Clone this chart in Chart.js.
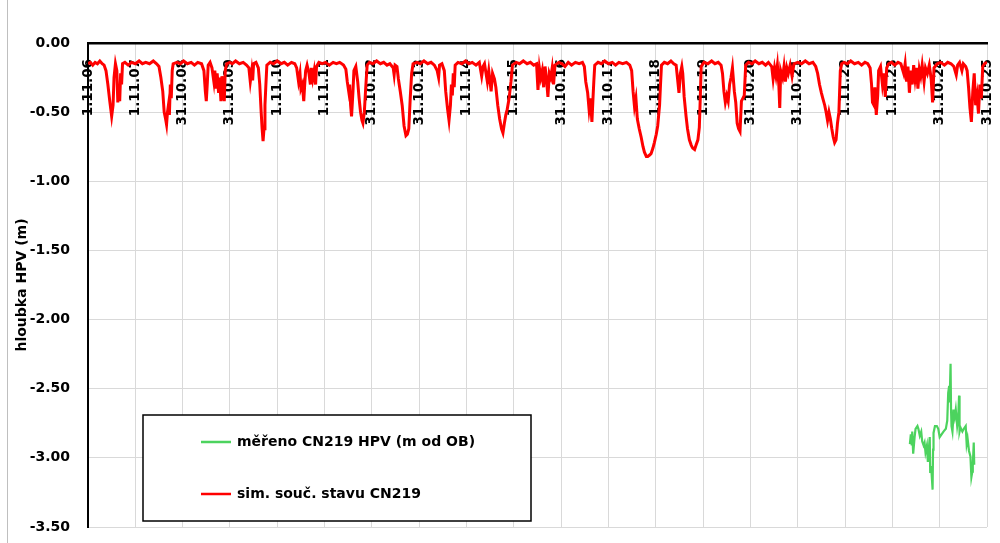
<!DOCTYPE html>
<html>
<head>
<meta charset="utf-8">
<script src="https://cdn.jsdelivr.net/npm/chart.js@4"></script>
<style>
  body { margin: 0; background: #fff; }
  #wrap { position: relative; width: 1000px; height: 543px; }
  #edge { position: absolute; left: 7px; top: 0; width: 1px; height: 543px; background: #bfbfbf; }
</style>
</head>
<body>
<div id="wrap"><div id="edge"></div><canvas id="myChart"></canvas></div>
<script>
// x = years since 1.11.06, y = depth (m)
const dateLabels = ['1.11.06', '1.11.07', '31.10.08', '31.10.09', '1.11.10', '1.11.11', '31.10.12',
  '31.10.13', '1.11.14', '1.11.15', '31.10.16', '31.10.17', '1.11.18', '1.11.19', '31.10.20',
  '31.10.21', '1.11.22', '1.11.23', '31.10.24', '31.10.25'];

const depthTicks = [0, -0.5, -1, -1.5, -2, -2.5, -3, -3.5];

// měřeno CN219
const measured = [
  [17.37,-2.90],[17.39,-2.83],[17.41,-2.91],[17.42,-2.81],[17.44,-2.97],[17.47,-2.85],[17.49,-2.79],
  [17.53,-2.77],[17.55,-2.79],[17.58,-2.84],[17.61,-2.81],[17.63,-2.88],[17.66,-2.91],[17.68,-2.89],
  [17.70,-2.96],[17.73,-2.91],[17.75,-3.03],[17.77,-2.94],[17.79,-2.85],[17.80,-3.11],[17.82,-3.06],
  [17.85,-3.23],[17.86,-2.94],[17.87,-2.82],[17.90,-2.77],[17.94,-2.77],[17.97,-2.79],[18.00,-2.85],
  [18.04,-2.83],[18.08,-2.81],[18.13,-2.79],[18.16,-2.73],[18.18,-2.53],[18.20,-2.48],[18.21,-2.60],
  [18.23,-2.32],[18.24,-2.65],[18.25,-2.77],[18.27,-2.81],[18.30,-2.65],[18.32,-2.70],[18.34,-2.65],
  [18.37,-2.77],[18.39,-2.72],[18.41,-2.55],[18.42,-2.81],[18.44,-2.78],[18.48,-2.81],[18.51,-2.79],
  [18.55,-2.77],[18.57,-2.90],[18.59,-2.86],[18.62,-2.95],[18.65,-2.99],[18.67,-3.14],[18.69,-3.10],
  [18.70,-3.05],[18.72,-2.89],[18.73,-3.05]
];

// sim. souč. stavu CN219
const simulated = [
  [0.00,-0.15],[0.05,-0.14],[0.10,-0.16],[0.15,-0.14],[0.20,-0.15],[0.25,-0.13],[0.30,-0.15],[0.34,-0.16],
  [0.38,-0.20],[0.42,-0.30],[0.46,-0.42],[0.50,-0.53],[0.53,-0.45],[0.55,-0.25],[0.58,-0.15],[0.61,-0.20],
  [0.63,-0.43],[0.65,-0.30],[0.67,-0.42],[0.69,-0.22],[0.71,-0.30],[0.73,-0.15],[0.78,-0.14],[0.85,-0.16],
  [0.92,-0.14],[1.00,-0.15],[1.08,-0.13],[1.15,-0.15],[1.22,-0.14],[1.30,-0.15],[1.38,-0.13],[1.45,-0.15],
  [1.50,-0.17],[1.54,-0.25],[1.58,-0.35],[1.61,-0.50],[1.64,-0.55],[1.66,-0.59],[1.68,-0.50],[1.70,-0.45],
  [1.72,-0.52],[1.74,-0.30],[1.76,-0.40],[1.78,-0.20],[1.80,-0.15],[1.88,-0.14],[1.95,-0.15],[2.02,-0.13],
  [2.10,-0.15],[2.18,-0.14],[2.25,-0.16],[2.32,-0.14],[2.40,-0.15],[2.45,-0.20],[2.48,-0.35],[2.50,-0.42],
  [2.52,-0.30],[2.54,-0.16],[2.58,-0.14],[2.62,-0.18],[2.66,-0.28],[2.68,-0.20],[2.71,-0.33],[2.73,-0.22],
  [2.76,-0.36],[2.78,-0.25],[2.81,-0.42],[2.83,-0.24],[2.86,-0.36],[2.88,-0.42],[2.90,-0.20],[2.93,-0.15],
  [3.00,-0.14],[3.05,-0.15],[3.12,-0.13],[3.20,-0.15],[3.28,-0.14],[3.35,-0.16],[3.40,-0.18],[3.43,-0.28],
  [3.46,-0.20],[3.48,-0.27],[3.50,-0.15],[3.55,-0.14],[3.60,-0.18],[3.63,-0.30],[3.66,-0.50],[3.68,-0.62],
  [3.70,-0.71],[3.72,-0.62],[3.74,-0.45],[3.76,-0.30],[3.78,-0.16],[3.85,-0.14],[3.92,-0.15],[4.00,-0.13],
  [4.08,-0.15],[4.15,-0.14],[4.22,-0.16],[4.30,-0.14],[4.37,-0.15],[4.41,-0.18],[4.45,-0.28],[4.48,-0.22],
  [4.50,-0.33],[4.53,-0.30],[4.56,-0.42],[4.58,-0.30],[4.60,-0.20],[4.63,-0.16],[4.67,-0.22],[4.70,-0.30],
  [4.72,-0.18],[4.75,-0.26],[4.78,-0.20],[4.81,-0.30],[4.83,-0.17],[4.88,-0.14],[4.95,-0.15],[5.02,-0.14],
  [5.10,-0.16],[5.18,-0.14],[5.25,-0.15],[5.32,-0.14],[5.40,-0.16],[5.45,-0.19],[5.48,-0.28],[5.51,-0.35],
  [5.53,-0.30],[5.55,-0.45],[5.57,-0.53],[5.60,-0.35],[5.62,-0.20],[5.66,-0.17],[5.70,-0.28],[5.73,-0.40],
  [5.76,-0.50],[5.79,-0.56],[5.81,-0.58],[5.84,-0.50],[5.87,-0.32],[5.90,-0.16],[5.95,-0.14],[6.02,-0.15],
  [6.10,-0.13],[6.18,-0.15],[6.25,-0.14],[6.32,-0.16],[6.38,-0.15],[6.45,-0.18],[6.47,-0.23],[6.49,-0.16],
  [6.53,-0.17],[6.56,-0.26],[6.60,-0.35],[6.64,-0.45],[6.68,-0.60],[6.72,-0.67],[6.75,-0.66],[6.78,-0.62],
  [6.81,-0.40],[6.84,-0.22],[6.87,-0.15],[6.95,-0.14],[7.02,-0.15],[7.10,-0.13],[7.18,-0.15],[7.25,-0.14],
  [7.32,-0.16],[7.38,-0.20],[7.41,-0.25],[7.43,-0.16],[7.48,-0.15],[7.53,-0.20],[7.56,-0.35],[7.60,-0.48],
  [7.63,-0.56],[7.66,-0.45],[7.68,-0.30],[7.70,-0.38],[7.72,-0.22],[7.74,-0.32],[7.76,-0.16],[7.82,-0.14],
  [7.90,-0.15],[7.98,-0.13],[8.05,-0.15],[8.12,-0.14],[8.20,-0.16],[8.27,-0.14],[8.32,-0.24],[8.35,-0.17],
  [8.38,-0.15],[8.44,-0.28],[8.47,-0.20],[8.52,-0.35],[8.55,-0.22],[8.59,-0.26],[8.62,-0.32],[8.66,-0.45],
  [8.70,-0.55],[8.74,-0.62],[8.77,-0.65],[8.80,-0.58],[8.83,-0.52],[8.86,-0.48],[8.90,-0.40],[8.94,-0.28],
  [8.97,-0.16],[9.05,-0.14],[9.12,-0.15],[9.20,-0.13],[9.28,-0.15],[9.35,-0.14],[9.42,-0.16],[9.48,-0.15],
  [9.51,-0.34],[9.54,-0.18],[9.57,-0.25],[9.60,-0.20],[9.63,-0.32],[9.66,-0.17],[9.69,-0.26],[9.72,-0.39],
  [9.75,-0.22],[9.78,-0.25],[9.81,-0.18],[9.84,-0.30],[9.87,-0.16],[9.95,-0.14],[10.02,-0.15],[10.08,-0.17],
  [10.15,-0.14],[10.22,-0.16],[10.30,-0.14],[10.38,-0.15],[10.45,-0.14],[10.49,-0.17],[10.52,-0.28],[10.56,-0.36],
  [10.59,-0.48],[10.62,-0.40],[10.65,-0.57],[10.67,-0.42],[10.69,-0.28],[10.71,-0.16],[10.78,-0.14],[10.85,-0.15],
  [10.92,-0.13],[11.00,-0.15],[11.08,-0.14],[11.15,-0.16],[11.22,-0.14],[11.30,-0.15],[11.38,-0.14],[11.45,-0.16],
  [11.49,-0.20],[11.52,-0.35],[11.55,-0.46],[11.58,-0.40],[11.61,-0.55],[11.65,-0.62],[11.69,-0.68],[11.73,-0.75],
  [11.76,-0.79],[11.80,-0.82],[11.83,-0.82],[11.87,-0.81],[11.90,-0.80],[11.94,-0.76],[11.97,-0.72],[12.01,-0.66],
  [12.04,-0.60],[12.08,-0.45],[12.10,-0.30],[12.12,-0.16],[12.18,-0.14],[12.25,-0.15],[12.32,-0.13],[12.38,-0.15],
  [12.43,-0.16],[12.46,-0.26],[12.49,-0.36],[12.52,-0.22],[12.55,-0.17],[12.57,-0.22],[12.60,-0.39],[12.64,-0.53],
  [12.67,-0.62],[12.71,-0.70],[12.75,-0.74],[12.78,-0.76],[12.82,-0.77],[12.85,-0.74],[12.89,-0.70],[12.92,-0.61],
  [12.94,-0.40],[12.96,-0.17],[13.02,-0.14],[13.10,-0.15],[13.18,-0.13],[13.25,-0.15],[13.32,-0.14],[13.38,-0.16],
  [13.41,-0.22],[13.44,-0.35],[13.47,-0.43],[13.50,-0.38],[13.53,-0.42],[13.56,-0.30],[13.59,-0.25],[13.62,-0.18],
  [13.66,-0.35],[13.69,-0.43],[13.72,-0.58],[13.75,-0.62],[13.78,-0.64],[13.81,-0.42],[13.84,-0.40],[13.87,-0.38],
  [13.90,-0.16],[13.96,-0.14],[14.03,-0.15],[14.10,-0.13],[14.18,-0.15],[14.25,-0.14],[14.32,-0.16],[14.38,-0.14],
  [14.45,-0.17],[14.48,-0.26],[14.51,-0.18],[14.54,-0.24],[14.57,-0.16],[14.60,-0.30],[14.62,-0.47],[14.64,-0.20],
  [14.68,-0.25],[14.71,-0.17],[14.74,-0.28],[14.77,-0.18],[14.80,-0.22],[14.84,-0.16],[14.88,-0.24],[14.92,-0.15],
  [15.00,-0.14],[15.08,-0.15],[15.16,-0.13],[15.24,-0.15],[15.32,-0.14],[15.38,-0.17],[15.42,-0.22],[15.46,-0.30],
  [15.50,-0.36],[15.53,-0.40],[15.57,-0.45],[15.60,-0.50],[15.63,-0.56],[15.66,-0.50],[15.69,-0.55],[15.72,-0.62],
  [15.75,-0.68],[15.78,-0.72],[15.81,-0.70],[15.84,-0.58],[15.87,-0.50],[15.90,-0.20],[15.93,-0.15],[15.98,-0.14],
  [16.05,-0.15],[16.12,-0.13],[16.20,-0.15],[16.28,-0.14],[16.35,-0.16],[16.42,-0.14],[16.48,-0.15],[16.53,-0.18],
  [16.56,-0.30],[16.58,-0.43],[16.61,-0.45],[16.63,-0.32],[16.66,-0.52],[16.69,-0.38],[16.71,-0.20],[16.75,-0.17],
  [16.79,-0.30],[16.82,-0.22],[16.85,-0.39],[16.88,-0.18],[16.92,-0.15],[16.98,-0.14],[17.05,-0.16],[17.12,-0.14],
  [17.18,-0.15],[17.24,-0.22],[17.27,-0.15],[17.30,-0.28],[17.33,-0.17],[17.36,-0.36],[17.39,-0.20],[17.42,-0.30],
  [17.45,-0.16],[17.48,-0.26],[17.51,-0.18],[17.54,-0.33],[17.57,-0.19],[17.60,-0.24],[17.63,-0.16],[17.67,-0.28],
  [17.70,-0.18],[17.74,-0.22],[17.78,-0.16],[17.82,-0.26],[17.85,-0.43],[17.88,-0.18],[17.95,-0.15],[18.02,-0.14],
  [18.10,-0.16],[18.17,-0.14],[18.24,-0.15],[18.30,-0.17],[18.35,-0.23],[18.38,-0.16],[18.42,-0.14],[18.47,-0.20],
  [18.50,-0.15],[18.55,-0.17],[18.58,-0.20],[18.61,-0.32],[18.64,-0.47],[18.67,-0.57],[18.70,-0.35],[18.73,-0.22],
  [18.76,-0.45],[18.79,-0.38],[18.82,-0.51],[18.85,-0.30],[18.88,-0.40],[18.91,-0.17],[18.95,-0.15],[19.00,-0.14]
];

const toXY = (arr) => arr.map(p => ({x: p[0], y: p[1]}));
const FONT = '"DejaVu Sans", Verdana, sans-serif';

// legend box drawn inside the plot, like the excel one
const legendBox = {
  id: 'legendBox',
  afterDraw(chart) {
    const {ctx, chartArea} = chart;
    const x0 = chartArea.left + 55, y0 = chartArea.bottom - 112;
    ctx.save();
    ctx.fillStyle = '#fff';
    ctx.fillRect(x0, y0, 388, 106);
    ctx.strokeStyle = '#000';
    ctx.lineWidth = 1.5;
    ctx.strokeRect(x0, y0, 388, 106);
    ctx.font = 'bold 14px ' + FONT;
    ctx.textBaseline = 'middle';
    chart.data.datasets.forEach((ds, i) => {
      const y = y0 + 27 + i * 52;
      ctx.strokeStyle = ds.borderColor;
      ctx.lineWidth = 2.5;
      ctx.beginPath();
      ctx.moveTo(x0 + 58, y);
      ctx.lineTo(x0 + 88, y);
      ctx.stroke();
      ctx.fillStyle = '#000';
      ctx.fillText(ds.label, x0 + 94, y);
    });
    ctx.restore();
  }
};

const data = {
  datasets: [
    {
      label: 'měřeno CN219 HPV (m od OB)',
      data: toXY(measured),
      borderColor: '#4cd35e',
      borderWidth: 2.2,
      pointRadius: 0,
      tension: 0
    },
    {
      label: 'sim. souč. stavu CN219',
      data: toXY(simulated),
      borderColor: '#ff0000',
      borderWidth: 3,
      pointRadius: 0,
      tension: 0
    }
  ]
};

const config = {
  type: 'line',
  data: data,
  options: {
    responsive: true,
    maintainAspectRatio: false,
    animation: false,
    layout: { padding: { left: 10, top: 43, right: 13, bottom: 16 } },
    plugins: {
      legend: { display: false },
      tooltip: { enabled: false }
    },
    scales: {
      x: {
        type: 'linear',
        min: 0,
        max: 19,
        position: { y: 0 },
        ticks: { display: false, stepSize: 1 },
        grid: { color: '#d9d9d9', lineWidth: 1, drawTicks: false },
        border: { display: false },
        afterFit(scale) { scale.paddingLeft = 0; scale.paddingRight = 0; }
      },
      xLab: {
        type: 'linear',
        axis: 'x',
        min: 0,
        max: 19,
        position: { y: 0 },
        z: 1,
        grid: { display: false, drawTicks: false },
        border: { display: true, color: '#000', width: 2.5 },
        ticks: {
          stepSize: 1,
          autoSkip: false,
          maxRotation: 90,
          minRotation: 90,
          padding: 16,
          color: '#000',
          font: { family: FONT, size: 13.5, weight: 'bold' },
          callback: (v) => dateLabels[v]
        },
        afterBuildTicks(scale) { scale.ticks = dateLabels.map((l, i) => ({value: i})); },
        afterFit(scale) { scale.paddingLeft = 0; scale.paddingRight = 0; }
      },
      y: {
        min: -3.5,
        max: 0,
        afterBuildTicks(scale) { scale.ticks = depthTicks.map(v => ({value: v})); },
        ticks: {
          padding: 18,
          color: '#000',
          font: { family: FONT, size: 14, weight: 'bold' },
          callback: (v) => v.toFixed(2)
        },
        grid: { color: '#d9d9d9', lineWidth: 1, drawTicks: false },
        border: { display: true, color: '#000', width: 2 },
        title: {
          display: true,
          text: 'hloubka HPV (m)',
          color: '#000',
          font: { family: FONT, size: 14, weight: 'bold' },
          padding: { top: 4, bottom: 0 }
        },
        afterFit(scale) {
          scale.width = 78;
          scale.paddingTop = 0;
          scale.paddingBottom = 0;
        }
      }
    }
  },
  plugins: [legendBox]
};

const myChart = new Chart(
  document.getElementById('myChart'),
  config
);
</script>
</body>
</html>
